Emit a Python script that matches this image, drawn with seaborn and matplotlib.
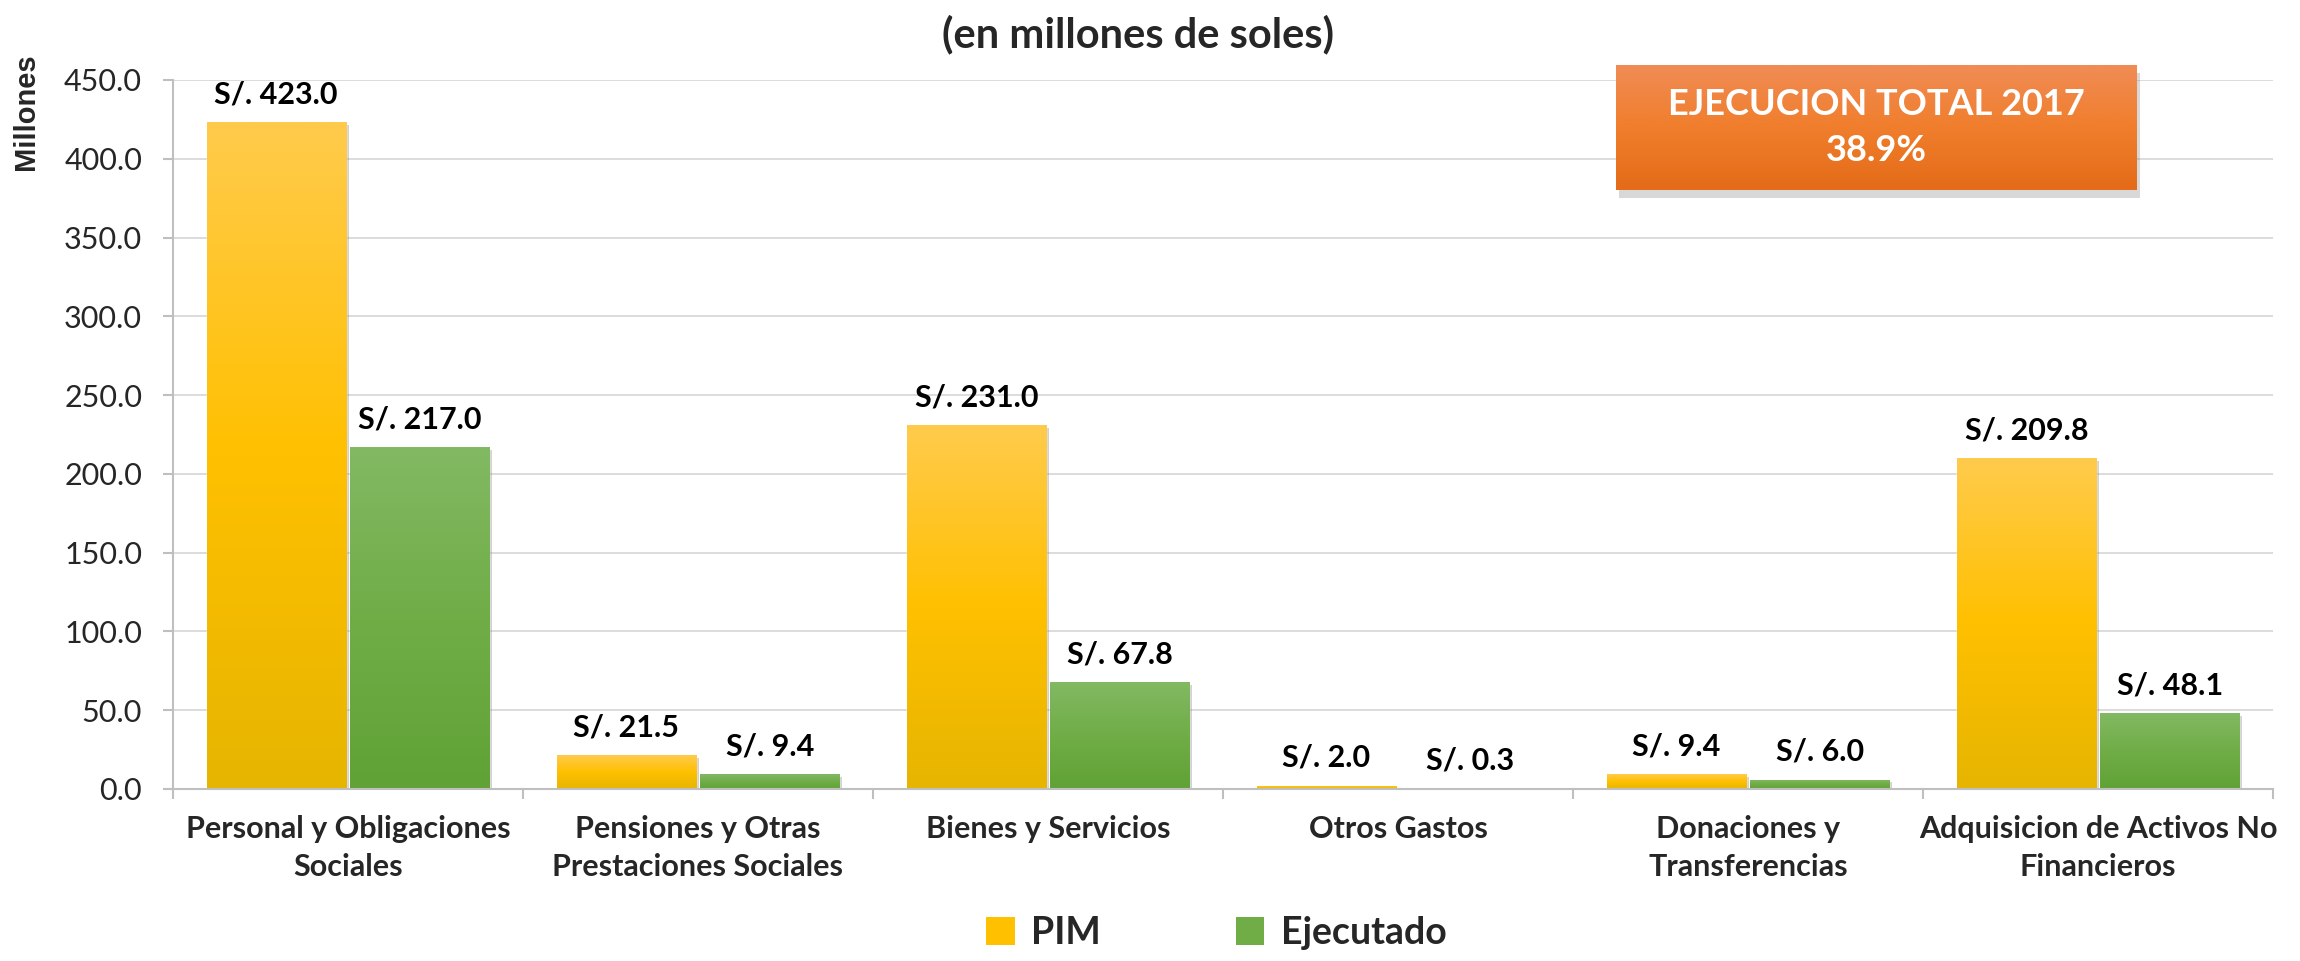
import numpy as np
import pandas as pd
import matplotlib
matplotlib.use('Agg')
import matplotlib.pyplot as plt
import seaborn as sns
from matplotlib.colors import LinearSegmentedColormap
from matplotlib.patches import Patch, Rectangle
from matplotlib import patheffects as pe

# data
categorias = ['Personal y Obligaciones\nSociales', 'Pensiones y Otras\nPrestaciones Sociales',
              'Bienes y Servicios', 'Otros Gastos', 'Donaciones y\nTransferencias',
              'Adquisicion de Activos No\nFinancieros']
series = ['PIM', 'Ejecutado']
pim = [423.0, 21.5, 231.0, 2.0, 9.4, 209.8]
ejecutado = [217.0, 9.4, 67.8, 0.3, 6.0, 48.1]
yticks = [0, 50, 100, 150, 200, 250, 300, 350, 400, 450]
titulo = '(en millones de soles)'
caja_texto = 'EJECUCION TOTAL 2017\n38.9%'

amarillo = '#FFC000'
verde = '#70AD47'
grad_amarillo = ['#E6B500', '#FFC000', '#FFCB4C']
grad_verde = ['#60A235', '#70AD47', '#82B963']
grad_naranja = ['#E46B18', '#F07E2C', '#F08C55']

sns.set_style('white')
plt.rcParams['font.family'] = ['Lato', 'DejaVu Sans']

df = pd.DataFrame({'categoria': categorias * 2,
                   'serie': [series[0]] * len(pim) + [series[1]] * len(ejecutado),
                   'valor': pim + ejecutado})

fig, ax = plt.subplots(figsize=(23, 9.61), dpi=100)
fig.subplots_adjust(left=0.0752, right=0.9883, bottom=0.179, top=0.9168)

sns.barplot(data=df, x='categoria', y='valor', hue='serie', palette=[amarillo, verde],
            width=0.82, gap=0.03, saturation=1, legend=False, ax=ax)

# gradient fill for the bars
for cont, cols in zip(ax.containers, [grad_amarillo, grad_verde]):
    cmap = LinearSegmentedColormap.from_list('g', cols)
    grad = np.linspace(0, 1, 256).reshape(-1, 1)
    for bar in cont:
        x0, y0 = bar.get_x(), bar.get_y()
        w, h = bar.get_width(), bar.get_height()
        bar.set_path_effects([pe.SimplePatchShadow(offset=(2, -2), shadow_rgbFace='#808080', alpha=0.35),
                              pe.Normal()])
        im = ax.imshow(grad, extent=[x0, x0 + w, y0, y0 + h], origin='lower', aspect='auto',
                       cmap=cmap, zorder=bar.get_zorder() + 0.1)
        im.set_clip_path(bar)
    ax.bar_label(cont, labels=[f'S/. {v:.1f}' for v in cont.datavalues], padding=10,
                 fontsize=22, fontweight='bold', color='#000000')

ax.set_xlim(-0.5, len(categorias) - 0.5)
ax.set_ylim(0, 450)
ax.set_yticks(yticks)
ax.yaxis.set_major_formatter(matplotlib.ticker.StrMethodFormatter('{x:.1f}'))
ax.set_xticks(np.arange(-0.5, len(categorias), 1), minor=True)
ax.set_xlabel('')
ax.set_ylabel('')
ax.yaxis.grid(True, color='#d9d9d9', lw=1.3)
ax.set_axisbelow(True)

for s in ['top', 'right']:
    ax.spines[s].set_visible(False)
for s in ['left', 'bottom']:
    ax.spines[s].set_color('#bfbfbf')
    ax.spines[s].set_linewidth(1.5)

ax.tick_params(axis='y', left=True, length=7.2, width=1.5, color='#bfbfbf', labelsize=22, pad=15)
ax.tick_params(axis='x', which='major', length=0, labelsize=22, pad=19)
ax.tick_params(axis='x', which='minor', bottom=True, length=7.2, width=1.5, color='#bfbfbf')
for lab in ax.get_xticklabels():
    lab.set_fontweight('bold')
    lab.set_linespacing(1.4)

fig.text(0.495, 0.964, titulo, ha='center', va='center', fontsize=30, fontweight='bold')
fig.text(0.0115, 0.884, 'Millones', rotation=90, ha='center', va='center', fontsize=21,
         fontweight='bold', family=['Liberation Sans', 'DejaVu Sans'])

# legend
handles = [Patch(facecolor=amarillo, edgecolor='none'), Patch(facecolor=verde, edgecolor='none')]
fig.legend(handles, series, loc='center', bbox_to_anchor=(0.529, 0.029), ncol=2, frameon=False,
           prop={'size': 27, 'weight': 'bold'}, handlelength=0.75, handleheight=0.75,
           handletextpad=0.45, columnspacing=3.6)

# orange box
bx = [1616 / 2300, 1 - 190 / 961, (2137 - 1616) / 2300, 125 / 961]
fig.patches.append(Rectangle((bx[0] + 0.0015, bx[1] - 0.008), bx[2], bx[3], transform=fig.transFigure,
                             facecolor='#7f7f7f', alpha=0.3, edgecolor='none', zorder=1))
bax = fig.add_axes(bx, zorder=5)
bax.imshow(np.linspace(0, 1, 256).reshape(-1, 1), origin='lower', aspect='auto',
           cmap=LinearSegmentedColormap.from_list('o', grad_naranja), extent=[0, 1, 0, 1])
bax.set_axis_off()
bax.text(0.5, 0.5, caja_texto, ha='center', va='center', color='white', fontsize=26,
         fontweight='bold', linespacing=1.45, transform=bax.transAxes)

fig.savefig('out.png', dpi=100)
